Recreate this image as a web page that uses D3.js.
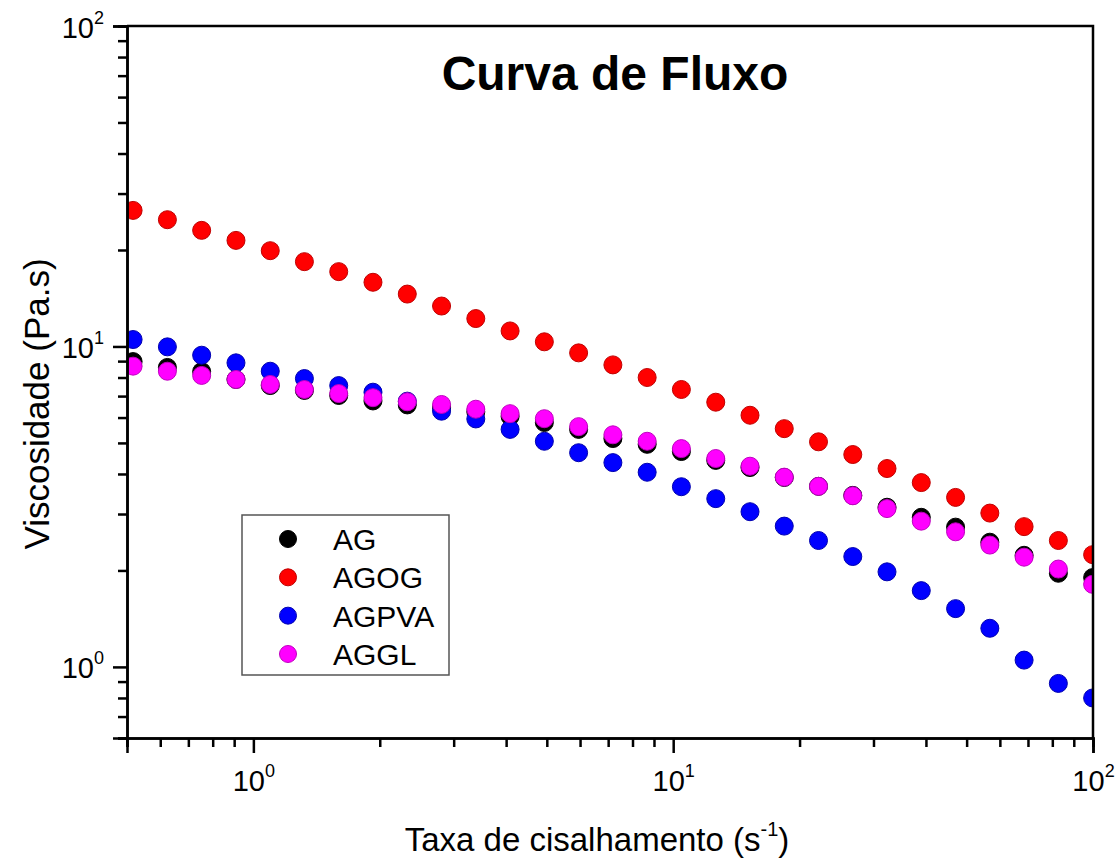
<!DOCTYPE html>
<html>
<head>
<meta charset="utf-8">
<script src="https://cdn.jsdelivr.net/npm/d3@7"></script>
<style>
  html, body { margin: 0; padding: 0; background: #fff; }
  svg { display: block; font-family: Arial, "Liberation Sans", sans-serif; }
</style>
</head>
<body>
<svg id="chart" width="1118" height="861"></svg>
<script>
// Shear rate (1/s) shared by all samples
const shearRate = [0.517, 0.624, 0.753, 0.909, 1.097, 1.323, 1.597, 1.927, 2.326, 2.807,
  3.387, 4.088, 4.933, 5.953, 7.184, 8.670, 10.46, 12.63, 15.24, 18.39,
  22.19, 26.78, 32.31, 38.99, 47.06, 56.79, 68.53, 82.70, 99.8];

// Viscosity (Pa.s) per sample
const agValues = [8.97, 8.60, 8.35, 7.89, 7.55, 7.29, 7.03, 6.76, 6.57, 6.45,
  6.25, 6.05, 5.79, 5.51, 5.16, 4.95, 4.70, 4.41, 4.19, 3.90,
  3.66, 3.43, 3.15, 2.93, 2.73, 2.45, 2.23, 1.96, 1.90];
const agogValues = [26.58, 24.86, 23.03, 21.43, 19.90, 18.39, 17.12, 15.86, 14.57, 13.37,
  12.22, 11.18, 10.34, 9.55, 8.76, 8.00, 7.34, 6.70, 6.10, 5.54,
  5.04, 4.60, 4.16, 3.76, 3.38, 3.02, 2.74, 2.48, 2.24];
const agpvaValues = [10.51, 9.97, 9.39, 8.89, 8.37, 7.94, 7.55, 7.20, 6.75, 6.28,
  5.94, 5.51, 5.06, 4.66, 4.34, 4.05, 3.65, 3.35, 3.05, 2.75,
  2.48, 2.21, 1.98, 1.73, 1.52, 1.32, 1.05, 0.888, 0.800];
const agglValues = [8.68, 8.37, 8.12, 7.89, 7.61, 7.34, 7.13, 6.92, 6.72, 6.59,
  6.37, 6.17, 5.95, 5.62, 5.30, 5.06, 4.80, 4.47, 4.23, 3.91,
  3.66, 3.42, 3.12, 2.85, 2.64, 2.40, 2.20, 2.02, 1.81];

const seriesNames = ["AG", "AGOG", "AGPVA", "AGGL"];
const seriesColors = ["#000000", "#ff0000", "#0000ff", "#ff00ff"];
const seriesStrokes = ["#000000", "#c00000", "#0000b0", "#c000c0"];

// Axis ticks: decades carry labels, the rest are unlabeled minors
const xMajorTicks = [1, 10, 100];
const xMinorTicks = [0.5, 0.6, 0.7, 0.8, 0.9, 2, 3, 4, 5, 6, 7, 8, 9, 20, 30, 40, 50, 60, 70, 80, 90];
const yMajorTicks = [1, 10, 100];
const yMinorTicks = [0.6, 0.7, 0.8, 0.9, 2, 3, 4, 5, 6, 7, 8, 9, 20, 30, 40, 50, 60, 70, 80, 90];

const titleText = "Curva de Fluxo";
const xLabelText = "Taxa de cisalhamento (s";
const yLabelText = "Viscosidade (Pa.s)";

const series = [agValues, agogValues, agpvaValues, agglValues].map((vals, i) => ({
  name: seriesNames[i], color: seriesColors[i], stroke: seriesStrokes[i],
  points: vals.map((v, j) => ({ x: shearRate[j], y: v }))
}));

const svg = d3.select("#chart");
const plot = { left: 127, right: 1093, top: 26, bottom: 738 };
const fontStack = "Arial, 'Liberation Sans', sans-serif";

const x = d3.scaleLog().domain([0.5, 100]).range([plot.left, plot.right]);
const y = d3.scaleLog().domain([0.6, 100]).range([plot.bottom, plot.top]);

// Clip markers to the frame
svg.append("defs").append("clipPath").attr("id", "plotClip")
  .append("rect")
  .attr("x", plot.left).attr("y", plot.top)
  .attr("width", plot.right - plot.left).attr("height", plot.bottom - plot.top);

// Data markers
const marks = svg.append("g").attr("clip-path", "url(#plotClip)");
series.forEach(s => {
  marks.append("g").selectAll("circle").data(s.points).join("circle")
    .attr("cx", d => x(d.x))
    .attr("cy", d => y(d.y))
    .attr("r", 9)
    .attr("fill", s.color)
    .attr("stroke", s.stroke)
    .attr("stroke-width", 1);
});

// Frame on top and right
svg.append("path")
  .attr("d", `M${plot.left},${plot.top}H${plot.right}V${plot.bottom}`)
  .attr("fill", "none").attr("stroke", "#000").attr("stroke-width", 2.5);

function styleAxis(g) {
  g.attr("font-family", fontStack);
  g.selectAll("path.domain").attr("stroke", "#000").attr("stroke-width", 2.5);
  g.selectAll(".tick line").attr("stroke", "#000").attr("stroke-width", 2.5);
}

// Decade labels written as 10 with a raised exponent
function powerLabel(textSel) {
  textSel.each(function (d) {
    const t = d3.select(this);
    t.text(null);
    t.append("tspan").text("10");
    t.append("tspan").attr("dy", -14).attr("font-size", 18).text(Math.round(Math.log10(d)));
  });
}

// X axis
const xMinorG = svg.append("g").attr("transform", `translate(0,${plot.bottom})`)
  .call(d3.axisBottom(x).tickValues(xMinorTicks).tickSize(9).tickFormat(""));
styleAxis(xMinorG);
const xMajorG = svg.append("g").attr("transform", `translate(0,${plot.bottom})`)
  .call(d3.axisBottom(x).tickValues(xMajorTicks).tickSize(15));
styleAxis(xMajorG);
xMajorG.selectAll(".tick text")
  .attr("font-size", 29).attr("fill", "#000")
  .attr("dy", 0).attr("y", 53).attr("x", 0)
  .call(powerLabel);

// Y axis
const yMinorG = svg.append("g").attr("transform", `translate(${plot.left},0)`)
  .call(d3.axisLeft(y).tickValues(yMinorTicks).tickSize(9).tickFormat(""));
styleAxis(yMinorG);
const yMajorG = svg.append("g").attr("transform", `translate(${plot.left},0)`)
  .call(d3.axisLeft(y).tickValues(yMajorTicks).tickSize(14));
styleAxis(yMajorG);
yMajorG.selectAll(".tick text")
  .attr("font-size", 29).attr("fill", "#000")
  .attr("text-anchor", "end").attr("x", -23).attr("dy", 0).attr("y", 11)
  .call(powerLabel);

// Title
svg.append("text")
  .attr("x", 615).attr("y", 90)
  .attr("text-anchor", "middle")
  .attr("font-size", 48).attr("font-weight", "bold")
  .text(titleText);

// X axis title with s^-1
const xl = svg.append("text")
  .attr("x", 597).attr("y", 851)
  .attr("text-anchor", "middle")
  .attr("font-size", 33);
xl.append("tspan").text(xLabelText);
xl.append("tspan").attr("dy", -15).attr("font-size", 20).text("-1");
xl.append("tspan").attr("dy", 15).text(")");

// Y axis title
svg.append("text")
  .attr("transform", "translate(49,404) rotate(-90)")
  .attr("text-anchor", "middle")
  .attr("font-size", 35)
  .text(yLabelText);

// Legend
const legend = svg.append("g");
legend.append("rect")
  .attr("x", 242).attr("y", 515).attr("width", 207).attr("height", 160)
  .attr("fill", "#fff").attr("stroke", "#555").attr("stroke-width", 1.5);
const legendY = d3.scalePoint().domain(seriesNames).range([539, 654]);
series.forEach(s => {
  legend.append("circle")
    .attr("cx", 288).attr("cy", legendY(s.name)).attr("r", 8.5)
    .attr("fill", s.color).attr("stroke", s.stroke).attr("stroke-width", 1);
  legend.append("text")
    .attr("x", 333).attr("y", legendY(s.name) + 11)
    .attr("font-size", 30)
    .text(s.name);
});
</script>
</body>
</html>
